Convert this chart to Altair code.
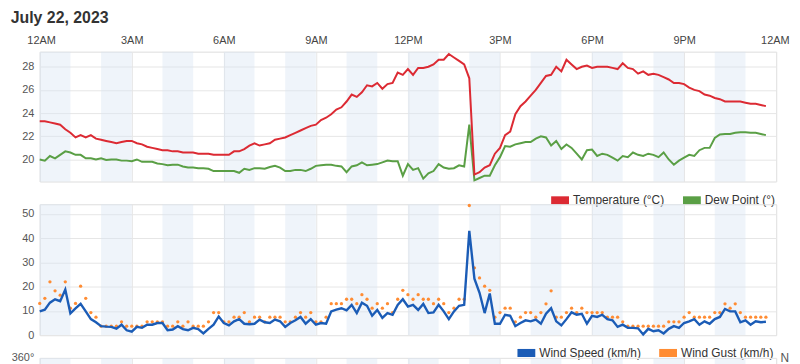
import altair as alt
import pandas as pd

# ---------------- data (10-minute readings, July 22 2023) ----------------
STEP_MIN = 10
temperature = [
    23.3, 23.3, 23.2, 23.1, 23.0, 22.6,
    22.3, 21.9, 22.1, 21.9, 22.1, 21.8,
    21.7, 21.6, 21.5, 21.4, 21.5, 21.6,
    21.6, 21.4, 21.3, 21.1, 21.0, 20.9,
    20.8, 20.8, 20.7, 20.7, 20.6, 20.6,
    20.6, 20.5, 20.5, 20.5, 20.4, 20.4,
    20.4, 20.4, 20.7, 20.7, 20.9, 21.2,
    21.4, 21.2, 21.3, 21.4, 21.7, 21.8,
    21.9, 22.1, 22.3, 22.5, 22.7, 22.9,
    23.0, 23.4, 23.6, 23.9, 24.3, 24.5,
    25.0, 25.6, 25.4, 25.8, 26.4, 26.3,
    26.6, 26.1, 26.5, 26.6, 27.5, 27.3,
    27.8, 27.3, 27.9, 27.9, 28.0, 28.2,
    28.6, 28.6, 29.1, 28.8, 28.5, 28.2,
    27.0, 18.7, 18.9, 19.3, 19.5, 20.5,
    21.0, 22.1, 22.4, 23.9, 24.6, 25.0,
    25.5, 26.0, 26.6, 27.2, 27.3, 28.0,
    27.6, 28.6, 28.2, 27.8, 28.0, 28.1,
    27.9, 28.0, 28.0, 28.0, 27.9, 27.8,
    28.3, 27.9, 27.8, 27.4, 27.6, 27.3,
    27.4, 27.3, 27.1, 26.9, 26.6, 26.6,
    26.5, 26.2, 26.0, 25.9, 25.6, 25.5,
    25.3, 25.2, 25.0, 25.0, 25.0, 25.0,
    24.9, 24.8, 24.8, 24.7, 24.6,
]
dew_point = [
    20.0, 19.9, 20.3, 20.1, 20.4, 20.7,
    20.6, 20.4, 20.4, 20.1, 20.1, 20.0,
    20.1, 19.95, 20.0, 20.0, 19.9, 19.9,
    19.85, 20.0, 19.8, 19.8, 19.8, 19.65,
    19.6, 19.5, 19.55, 19.55, 19.4, 19.3,
    19.3, 19.25, 19.25, 19.2, 19.0, 19.0,
    19.0, 19.0, 19.0, 18.85, 19.2, 19.1,
    19.25, 19.25, 19.2, 19.35, 19.45, 19.3,
    19.0, 19.0, 19.1, 19.1, 19.0, 19.2,
    19.45, 19.5, 19.55, 19.55, 19.45, 19.4,
    18.9, 19.4, 19.5, 19.75, 19.5, 19.55,
    19.6, 19.75, 19.9, 19.85, 19.85, 18.6,
    19.6, 19.1, 19.25, 18.35, 18.8, 19.0,
    19.6, 19.3, 19.2, 19.25, 19.5, 19.4,
    23.0, 18.2, 18.4, 18.6, 18.6, 19.5,
    20.2, 21.15, 21.1, 21.3, 21.4, 21.5,
    21.5, 21.8, 22.0, 21.9, 21.2, 21.6,
    20.9, 21.3, 21.0, 20.5, 20.0, 20.8,
    20.85, 20.3, 20.5, 20.4, 20.15, 19.9,
    20.3, 20.2, 20.6, 20.4, 20.3, 20.5,
    20.4, 20.2, 20.6, 20.0, 19.55, 19.9,
    20.15, 20.4, 20.3, 20.8, 21.0, 21.0,
    21.85, 22.15, 22.2, 22.2, 22.3, 22.35,
    22.35, 22.3, 22.3, 22.2, 22.1,
]
wind_speed = [
    9.8, 10.5, 13.4, 14.8, 14.0, 18.8,
    9.0, 11.0, 12.9, 9.8, 6.6, 5.3,
    3.7, 3.5, 3.4, 2.7, 4.3, 2.0,
    1.4, 3.4, 3.0, 4.3, 4.3, 5.0,
    5.0, 2.0, 2.3, 3.7, 2.5, 2.0,
    3.0, 2.5, 0.7, 2.6, 4.3, 7.7,
    5.0, 4.0, 5.7, 6.6, 4.7, 4.5,
    4.7, 6.4, 5.3, 5.0, 6.4, 5.7,
    3.4, 5.0, 6.1, 7.5, 4.7, 6.6,
    4.3, 5.0, 4.7, 9.8, 10.5, 11.1,
    10.2, 12.5, 9.1, 13.4, 12.1, 8.0,
    10.4, 7.1, 9.1, 8.4, 12.5, 14.8,
    11.8, 12.5, 10.4, 12.9, 9.1, 9.4,
    12.5, 9.8, 6.6, 9.8, 12.1, 12.5,
    43.0, 23.3, 17.5, 9.1, 17.2, 4.7,
    4.7, 8.4, 8.0, 3.7, 5.0, 6.1,
    5.7, 6.4, 4.7, 8.8, 11.1, 5.7,
    4.0, 6.6, 9.4, 8.4, 8.8, 4.7,
    8.0, 7.5, 8.4, 6.6, 6.1, 3.4,
    4.3, 3.0, 3.0, 2.8, 0.3, 2.6,
    1.6, 2.0, 0.7, 2.6, 3.7, 3.0,
    5.0, 5.7, 6.6, 4.3, 5.7, 4.7,
    6.6, 7.5, 10.8, 9.8, 9.8, 5.3,
    6.1, 4.3, 5.7, 5.3, 5.5,
]
wind_gust = [
    13.1, 15.2, 22.0, 18.3, 16.5, 22.0,
    11.1, 13.1, 20.2, 15.2, 9.3, 7.4,
    3.7, 3.7, 3.7, 3.7, 5.5, 3.7,
    3.7, 3.7, 3.7, 5.5, 5.5, 5.5,
    5.5, 3.7, 3.7, 5.5, 3.7, 5.5,
    3.7, 3.7, 3.7, 5.5, 9.3, 9.3,
    5.5, 5.5, 7.4, 7.4, 9.3, 5.5,
    7.4, 7.4, 5.5, 7.4, 7.4, 7.4,
    5.5, 5.5, 7.4, 9.3, 7.4, 9.3,
    5.5, 5.5, 7.4, 13.0, 13.0, 13.0,
    14.8, 14.8, 13.0, 16.7, 14.8, 11.1,
    13.0, 11.1, 13.0, 9.3, 14.8, 18.5,
    16.7, 14.8, 16.7, 14.8, 14.8, 13.0,
    14.8, 13.0, 9.3, 11.1, 14.8, 14.8,
    53.5, 27.8, 23.6, 20.2, 18.5, 7.4,
    9.3, 11.1, 11.1, 5.5, 7.4, 9.3,
    9.3, 7.4, 9.3, 12.9, 18.3, 7.4,
    7.4, 9.3, 11.1, 9.3, 11.1, 9.3,
    9.3, 9.3, 9.3, 7.4, 7.4, 7.4,
    5.5, 3.7, 3.7, 3.7, 3.7, 3.7,
    3.7, 3.7, 3.7, 5.5, 5.5, 5.5,
    7.4, 9.3, 7.4, 7.4, 7.4, 7.4,
    9.3, 9.3, 12.9, 11.1, 12.9, 9.3,
    7.4, 7.4, 7.4, 7.4, 7.4,
]
band_hours = [0, 2, 4, 6, 8, 10, 12, 14, 16, 18, 20, 22]
time_ticks = [0, 180, 360, 540, 720, 900, 1080, 1260, 1440]
temp_ticks = [20, 22, 24, 26, 28]
wind_ticks = [0, 10, 20, 30, 40, 50]
dir_ticks = [0, 90, 180, 270, 360]
dir_labels = ["N", "E", "S", "W", "N"]

series1 = ["Temperature (°C)", "Dew Point (°)"]
colors1 = ["#dc2a33", "#5a9f45"]
series2 = ["Wind Speed (km/h)", "Wind Gust (km/h)"]
colors2 = ["#1b5cb6", "#ff8c33"]

# ---------------- frames ----------------
minutes = [i * STEP_MIN for i in range(len(temperature))]
df_temp = pd.DataFrame({"minute": minutes, "value": temperature})
df_dew = pd.DataFrame({"minute": minutes, "value": dew_point})
df_speed = pd.DataFrame({"minute": minutes, "value": wind_speed})
df_gust = pd.DataFrame({"minute": minutes, "value": wind_gust})
bands_df = pd.DataFrame({"start": [h * 60 for h in band_hours],
                         "end": [(h + 1) * 60 for h in band_hours]})
dir_df = pd.DataFrame({"deg": dir_ticks})
leg1_df = pd.DataFrame({"series": series1})
leg2_df = pd.DataFrame({"series": series2})

W = 743
H1, H2, H3 = 131, 132, 100
FONT = "Liberation Sans, Arial, sans-serif"
GRID = "#e6e6e6"

xscale = alt.Scale(domain=[0, 1440], nice=False, zero=False)
hour_expr = ("((floor(datum.value/60) % 12) == 0 ? '12' : '' + (floor(datum.value/60) % 12))"
             " + ((floor(datum.value/60) % 24) < 12 ? 'AM' : 'PM')")
axis_top = alt.Axis(orient="top", values=time_ticks, labelExpr=hour_expr, title=None,
                    ticks=False, domain=False, grid=True, gridColor=GRID,
                    labelFlush=True, labelFlushOffset=13,
                    labelPadding=6, labelFontSize=11, labelColor="#444", labelFont=FONT)
axis_plain = alt.Axis(values=time_ticks, labels=False, title=None, ticks=False,
                      domain=False, grid=True, gridColor=GRID)


def bands(h, axis):
    return alt.Chart(bands_df).mark_rect(color="#d8e5f2", opacity=0.42).encode(
        x=alt.X("start:Q", scale=xscale, axis=axis),
        x2="end:Q",
        y=alt.value(0),
        y2=alt.value(h),
    )


def yaxis(vals, expr=None, orient="left", pad=6, size=11):
    kw = dict(values=vals, title=None, ticks=False, domain=False, grid=(orient == "left"),
              gridColor=GRID, labelPadding=pad, labelFontSize=size, labelColor="#555",
              labelFont=FONT, orient=orient)
    if expr:
        kw["labelExpr"] = expr
    return alt.Axis(**kw)


def legend_layer(df, series, colors, lx):
    # invisible filled marks that only carry the colour legend
    return alt.Chart(df).mark_point(filled=True, opacity=0, size=1).encode(
        color=alt.Color(
            "series:N", scale=alt.Scale(domain=series, range=colors), sort=series,
            legend=alt.Legend(
                title=None, orient="none", direction="horizontal",
                legendX=lx, legendY=141,
                symbolType="M-1,-0.45H1V0.45H-1Z", symbolSize=324, symbolStrokeWidth=0,
                labelFontSize=12, labelColor="#333", labelFont=FONT,
                labelOffset=4, columnPadding=18, symbolOpacity=1)))


def series_line(df, color, width, x_axis, yscale, y_axis):
    return alt.Chart(df).mark_line(strokeWidth=width, color=color).encode(
        x=alt.X("minute:Q", scale=xscale, axis=x_axis),
        y=alt.Y("value:Q", scale=yscale, axis=y_axis),
    )


# ---------------- panel 1: temperature / dew point ----------------
tscale = alt.Scale(domain=[18.1, 29.3], nice=False, zero=False)
panel1 = alt.layer(
    bands(H1, axis_top),
    series_line(df_dew, colors1[1], 2, axis_top, tscale, yaxis(temp_ticks)),
    series_line(df_temp, colors1[0], 2, axis_top, tscale, yaxis(temp_ticks)),
    legend_layer(leg1_df, series1, colors1, 516),
).properties(width=W, height=H1)

# ---------------- panel 2: wind ----------------
wscale = alt.Scale(domain=[0, 54], nice=False, zero=True)
gust_dots = alt.Chart(df_gust).mark_circle(size=11, opacity=1, color=colors2[1]).encode(
    x=alt.X("minute:Q", scale=xscale, axis=axis_plain),
    y=alt.Y("value:Q", scale=wscale, axis=yaxis(wind_ticks)),
)
panel2 = alt.layer(
    bands(H2, axis_plain),
    gust_dots,
    series_line(df_speed, colors2[0], 2.4, axis_plain, wscale, yaxis(wind_ticks)),
    legend_layer(leg2_df, series2, colors2, 482),
).properties(width=W, height=H2)

# ---------------- panel 3: wind direction (top edge only visible) ----------------
dscale = alt.Scale(domain=[0, 360], nice=False)
dir_left = alt.Chart(dir_df).mark_rule(opacity=0).encode(
    y=alt.Y("deg:Q", scale=dscale, axis=yaxis(dir_ticks, "datum.value + '°'")))
label_map = "{" + ",".join(f"'{d}':'{l}'" for d, l in zip(dir_ticks, dir_labels)) + "}"
dir_right = alt.Chart(dir_df).mark_rule(opacity=0).encode(
    y=alt.Y("deg:Q", scale=dscale,
            axis=yaxis(dir_ticks, label_map + "[''+datum.value]", orient="right",
                       pad=4, size=12)))
panel3 = alt.layer(bands(H3, axis_plain), dir_left, dir_right).resolve_scale(
    y="independent").properties(width=W, height=H3)

chart = alt.vconcat(panel1, panel2, panel3, spacing=23, bounds="flush").resolve_scale(
    color="independent"
).resolve_legend(color="independent").properties(
    title=alt.TitleParams("July 22, 2023", anchor="start", frame="bounds", fontSize=16,
                          fontWeight="bold", color="#333", font=FONT, offset=8),
    padding={"left": 2, "top": 0, "right": 0, "bottom": 0},
).configure_view(stroke="#e2e2e2").configure(font=FONT)

chart.save("out.html", embed_options={"renderer": "svg", "actions": False})
